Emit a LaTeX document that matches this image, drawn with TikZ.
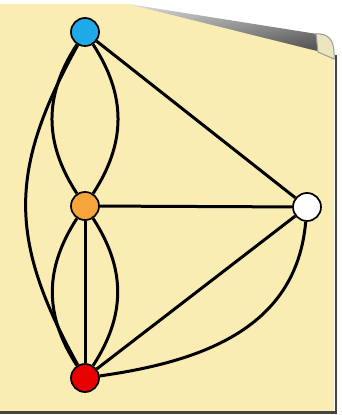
\documentclass[tikz,border=0pt]{standalone}
\usepackage{xcolor}
\usepackage{tikz}
\usetikzlibrary{calc,positioning,backgrounds}
\definecolor{paperYellow}{RGB}{249,237,180}
\definecolor{paperLight}{RGB}{236,230,190}
\definecolor{paperShadow}{RGB}{70,70,62}
\definecolor{vtxBlue}{RGB}{30,170,232}
\definecolor{vtxOrange}{RGB}{246,164,60}
\definecolor{vtxRed}{RGB}{232,0,0}

\begin{document}
\begin{tikzpicture}[x=1pt,y=1pt,
  vertex/.style={circle, draw=black, line width=1.7pt, minimum size=28pt, inner sep=0pt},
  edgeLine/.style={black, line width=3pt}]
\useasboundingbox (0,0) rectangle (342,415);

% the sheet with its rolled corner
\begin{scope}[on background layer]
\fill[white] (0,0) rectangle (342,415);
\fill[paperYellow] (0,3) -- (0,411) -- (128,411) -- (317,366) -- (334,356) -- (334,3) -- cycle;
\draw[paperShadow, line width=2.6pt] (0,2.5) -- (336,2.5) -- (336,360);
\shade[top color=gray!35, middle color=white, bottom color=black!65, shading angle=10]
  (128,411) -- (317,381) -- (317,364) -- cycle;
\filldraw[fill=paperLight, draw=gray!80, line width=1pt]
  (316,381) .. controls (328,382) and (334,375) .. (334,362) -- (334,356) -- (318,363) -- cycle;
\end{scope}

\node[vertex, fill=vtxBlue] (blue) at (85,383) {};
\node[vertex, fill=vtxOrange] (orange) at (85,209) {};
\node[vertex, fill=white] (white) at (307,208) {};
\node[vertex, fill=vtxRed] (red) at (85,37) {};

\begin{scope}[on background layer]
\foreach \b in {left,right}{
  \draw[edgeLine] (blue) to[bend \b=33, looseness=1.05] (orange);
  \draw[edgeLine] (orange) to[bend \b=33, looseness=1.05] (red);
}
\draw[edgeLine] (blue) to[bend right=29, looseness=1.15] (red);
\draw[edgeLine] (orange) -- (red);
\draw[edgeLine] (blue) -- (white);
\draw[edgeLine] (orange) -- (white);
\draw[edgeLine] (red) -- (white);
\draw[edgeLine] (red) to[out=8, in=265, looseness=1.05] (white);
\end{scope}
\end{tikzpicture}
\end{document}
